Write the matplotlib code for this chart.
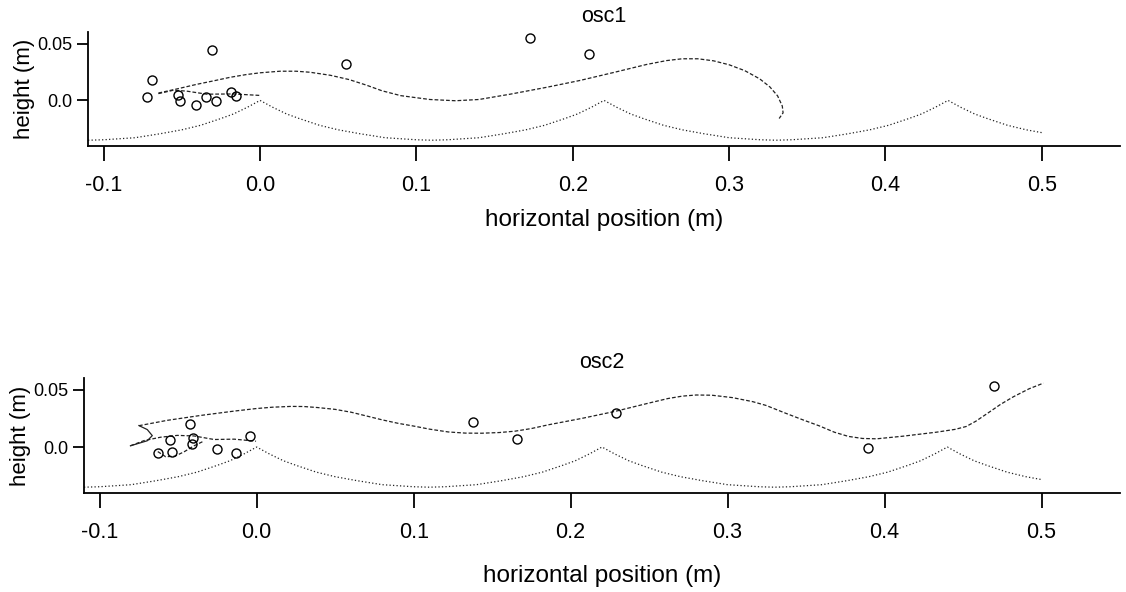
import matplotlib
matplotlib.use("Agg")
import matplotlib.pyplot as plt
from matplotlib.ticker import FixedLocator, FixedFormatter

plt.rcParams['font.family'] = ['Liberation Sans', 'DejaVu Sans']

# ---- data (metres) ----
# bed / hump profile (same in both panels)
hump_x = [-0.110, -0.100, -0.080, -0.064, -0.050, -0.038, -0.025, -0.017, -0.008, 0.000,
          0.008, 0.017, 0.025, 0.038, 0.050, 0.064, 0.080, 0.100, 0.110,
          0.120, 0.140, 0.156, 0.170, 0.182, 0.195, 0.203, 0.212, 0.220,
          0.228, 0.237, 0.245, 0.258, 0.270, 0.284, 0.300, 0.320, 0.330,
          0.340, 0.360, 0.376, 0.390, 0.402, 0.415, 0.423, 0.432, 0.440,
          0.448, 0.457, 0.465, 0.478, 0.490, 0.500]
hump_y = [-0.0352, -0.0348, -0.0330, -0.0295, -0.0260, -0.0220, -0.0160, -0.0120, -0.0060, 0.0000,
          -0.0060, -0.0120, -0.0160, -0.0220, -0.0260, -0.0295, -0.0330, -0.0348, -0.0352,
          -0.0348, -0.0330, -0.0295, -0.0260, -0.0220, -0.0160, -0.0120, -0.0060, 0.0000,
          -0.0060, -0.0120, -0.0160, -0.0220, -0.0260, -0.0295, -0.0330, -0.0348, -0.0352,
          -0.0348, -0.0330, -0.0295, -0.0260, -0.0220, -0.0160, -0.0120, -0.0060, 0.0000,
          -0.0060, -0.0120, -0.0160, -0.0220, -0.0260, -0.0285]

# osc1
osc1_pts_x = [-0.0720, -0.0692, -0.0309, -0.0522, -0.0509, -0.0411, -0.0345, -0.0281,
              -0.0185, -0.0153, 0.0548, 0.1725, 0.2104]
osc1_pts_y = [0.0034, 0.0182, 0.0445, 0.0046, -0.0007, -0.0043, 0.0031, -0.0009,
              0.0071, 0.0037, 0.0325, 0.0550, 0.0410]
osc1_main_x = [-0.0650, -0.0520, -0.0405, -0.0290, -0.0192, -0.0090, 0.0000, 0.0128,
               0.0230, 0.0319, 0.0450, 0.0570, 0.0680, 0.0780, 0.0900, 0.1086, 0.1250,
               0.1400, 0.1600, 0.1830, 0.2045, 0.2256, 0.2473, 0.2600, 0.2700, 0.2800,
               0.2900, 0.3000, 0.3100, 0.3195, 0.3260, 0.3310, 0.3340, 0.3345, 0.3320]
osc1_main_y = [0.0065, 0.0105, 0.0142, 0.0175, 0.0204, 0.0228, 0.0244, 0.0258,
               0.0258, 0.0249, 0.0222, 0.0184, 0.0135, 0.0085, 0.0042, 0.0008, -0.0003,
               0.0008, 0.0055, 0.0115, 0.0176, 0.0245, 0.0318, 0.0352, 0.0368, 0.0368,
               0.0350, 0.0315, 0.0263, 0.0191, 0.0120, 0.0040, -0.0050, -0.0110, -0.0160]
osc1_fin_x = [-0.0650, -0.0554, -0.0469, -0.0341, -0.0171, 0.0000]
osc1_fin_y = [0.0060, 0.0090, 0.0082, 0.0055, 0.0057, 0.0044]

# osc2
osc2_pts_x = [-0.0426, -0.0554, -0.0403, -0.0414, -0.0628, -0.0541, -0.0254, -0.0130,
              -0.0041, 0.1380, 0.1657, 0.2291, 0.3893, 0.4698]
osc2_pts_y = [0.0201, 0.0064, 0.0081, 0.0030, -0.0053, -0.0040, -0.0019, -0.0055,
              0.0095, 0.0218, 0.0068, 0.0296, -0.0008, 0.0535]
osc2_main_x = [-0.0750, -0.0569, -0.0356, -0.0143, -0.0004, 0.0100, 0.0219, 0.0300,
               0.0388, 0.0500, 0.0602, 0.0700, 0.0800, 0.0900, 0.1007, 0.1100, 0.1221,
               0.1330, 0.1433, 0.1546, 0.1646, 0.1750, 0.1859, 0.2072, 0.2285, 0.2498,
               0.2620, 0.2711, 0.2800, 0.2900, 0.3031, 0.3159, 0.3244, 0.3372, 0.3480,
               0.3585, 0.3680, 0.3770, 0.3860, 0.3950, 0.4117, 0.4330, 0.4450, 0.4520,
               0.4580, 0.4650, 0.4740, 0.4820, 0.4920, 0.5012]
osc2_main_y = [0.0187, 0.0234, 0.0277, 0.0315, 0.0337, 0.0349, 0.0356, 0.0355,
               0.0346, 0.0330, 0.0305, 0.0272, 0.0238, 0.0208, 0.0182, 0.0157, 0.0132,
               0.0122, 0.0121, 0.0127, 0.0139, 0.0162, 0.0195, 0.0251, 0.0313, 0.0385,
               0.0425, 0.0446, 0.0456, 0.0454, 0.0433, 0.0398, 0.0365, 0.0295, 0.0238,
               0.0185, 0.0130, 0.0093, 0.0075, 0.0072, 0.0095, 0.0130, 0.0155, 0.0180,
               0.0225, 0.0290, 0.0375, 0.0440, 0.0510, 0.0560]
osc2_tail_x = [-0.0750, -0.0697, -0.0665, -0.0697, -0.0804]
osc2_tail_y = [0.0188, 0.0153, 0.0100, 0.0055, 0.0011]
osc2_mid_x = [-0.0804, -0.0718, -0.0612, -0.0505, -0.0399, -0.0271, -0.0143, -0.0004]
osc2_mid_y = [0.0011, 0.0056, 0.0086, 0.0102, 0.0097, 0.0066, 0.0069, 0.0051]
osc2_low_x = [-0.0630, -0.0580, -0.0520, -0.0460, -0.0400, -0.0340]
osc2_low_y = [-0.0040, -0.0085, -0.0080, -0.0040, 0.0010, 0.0050]

x_ticks = [-0.1, 0.0, 0.1, 0.2, 0.3, 0.4, 0.5]
x_labels = ["-0.1", "0.0", "0.1", "0.2", "0.3", "0.4", "0.5"]
y_ticks = [0.0, 0.05]
y_labels = ["0.0", "0.05"]

fig = plt.figure(figsize=(11.26, 5.92), dpi=100)
ax1 = fig.add_axes([0.0782, 0.7534, 0.9165, 0.1926])
ax2 = fig.add_axes([0.0746, 0.1672, 0.9201, 0.1943])

ink = '#222222'
dash = (0, (3.0, 1.6))
dot = (0, (1.0, 1.8))

def style(ax, title, xlabelpad):
    ax.set_xlim(-0.11, 0.55)
    ax.set_ylim(-0.0403, 0.0605)
    for s in ['top', 'right']:
        ax.spines[s].set_visible(False)
    for s in ['left', 'bottom']:
        ax.spines[s].set_linewidth(1.3)
    ax.xaxis.set_major_locator(FixedLocator(x_ticks))
    ax.xaxis.set_major_formatter(FixedFormatter(x_labels))
    ax.yaxis.set_major_locator(FixedLocator(y_ticks))
    ax.yaxis.set_major_formatter(FixedFormatter(y_labels))
    ax.tick_params(axis='x', direction='out', length=11, width=1.3, pad=10, labelsize=15.5)
    ax.tick_params(axis='y', direction='out', length=8, width=1.3, pad=3, labelsize=13)
    ax.set_xlabel("horizontal position (m)", fontsize=17.5, labelpad=xlabelpad)
    ax.set_ylabel("height (m)", fontsize=16, labelpad=2)
    ax.set_title(title, fontsize=15.5, pad=7)

for ax, title, lp in [(ax1, "osc1", 9), (ax2, "osc2", 16)]:
    ax.plot(hump_x, hump_y, color=ink, lw=0.9, linestyle=dot)
    style(ax, title, lp)

ax1.plot(osc1_main_x, osc1_main_y, color=ink, lw=0.9, linestyle=dash)
ax1.plot(osc1_fin_x, osc1_fin_y, color=ink, lw=0.9, linestyle=dash)
ax1.plot(osc1_pts_x, osc1_pts_y, linestyle='none', marker='o', ms=6.5,
         mfc='none', mec='black', mew=1.0)

ax2.plot(osc2_main_x, osc2_main_y, color=ink, lw=0.9, linestyle=dash)
ax2.plot(osc2_tail_x, osc2_tail_y, color=ink, lw=0.9, linestyle='-')
ax2.plot(osc2_mid_x, osc2_mid_y, color=ink, lw=0.9, linestyle=dash)
ax2.plot(osc2_low_x, osc2_low_y, color=ink, lw=0.9, linestyle=dash)
ax2.plot(osc2_pts_x, osc2_pts_y, linestyle='none', marker='o', ms=6.5,
         mfc='none', mec='black', mew=1.0)

fig.savefig("out.png", dpi=100)
